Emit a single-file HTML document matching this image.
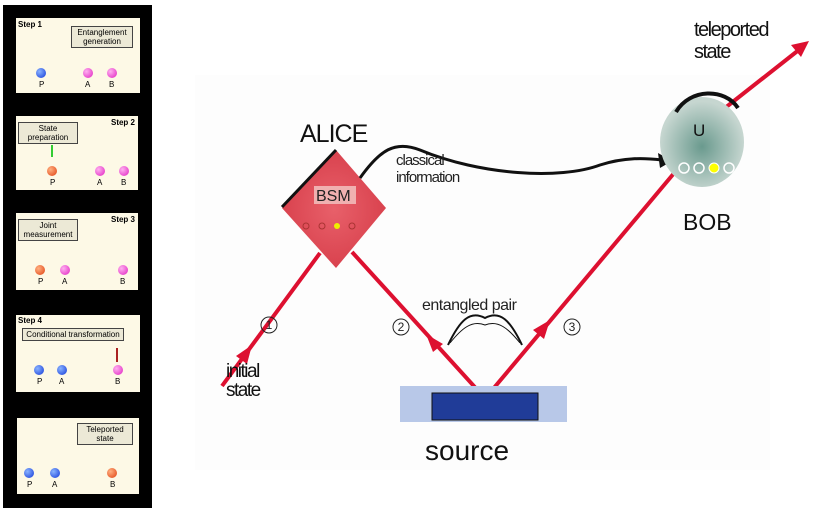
<!DOCTYPE html>
<html><head><style>
body{margin:0;width:830px;height:514px;background:#fff;position:relative;overflow:hidden;font-family:"Liberation Sans",sans-serif}
.panel{position:absolute;left:3px;top:5px;width:149px;height:503px;background:#000}
.st{position:absolute;background:#fdf9e6;overflow:hidden}
.lbl{position:absolute;background:#ece9d6;border:1px solid #444;font-size:8px;text-align:center;line-height:9px;padding:1px}
.b{position:absolute;width:10px;height:10px;border-radius:50%}
.blue{background:radial-gradient(circle at 35% 35%,#8ab4ff,#1238d8)}
.pink{background:radial-gradient(circle at 35% 35%,#ffb0f0,#e020c0)}
.org{background:radial-gradient(circle at 35% 35%,#ffb080,#e04010)}
.t{position:absolute;font-size:8px}
.s{position:absolute;font-size:8px;font-weight:bold}
</style></head><body>
<div class="panel"></div>
<div class="st" style="left:16px;top:18px;width:124px;height:75px">
<div class="s" style="left:2px;top:2px">Step 1</div>
<div class="lbl" style="left:55px;top:8px;width:58px">Entanglement<br>generation</div>
<div class="b blue" style="left:20px;top:50px"></div><div class="t" style="left:23px;top:62px">P</div>
<div class="b pink" style="left:67px;top:50px"></div><div class="t" style="left:69px;top:62px">A</div>
<div class="b pink" style="left:91px;top:50px"></div><div class="t" style="left:93px;top:62px">B</div>
</div>
<div class="st" style="left:16px;top:116px;width:122px;height:74px">
<div class="s" style="right:3px;top:2px">Step 2</div>
<div class="lbl" style="left:2px;top:6px;width:56px">State<br>preparation</div>
<div style="position:absolute;left:35px;top:29px;width:2px;height:12px;background:#3c3"></div>
<div class="b org" style="left:31px;top:50px"></div><div class="t" style="left:34px;top:62px">P</div>
<div class="b pink" style="left:79px;top:50px"></div><div class="t" style="left:81px;top:62px">A</div>
<div class="b pink" style="left:103px;top:50px"></div><div class="t" style="left:105px;top:62px">B</div>
</div>
<div class="st" style="left:16px;top:213px;width:122px;height:77px">
<div class="s" style="right:3px;top:2px">Step 3</div>
<div class="lbl" style="left:2px;top:6px;width:56px">Joint<br>measurement</div>
<div class="b org" style="left:19px;top:52px"></div><div class="t" style="left:22px;top:64px">P</div>
<div class="b pink" style="left:44px;top:52px"></div><div class="t" style="left:46px;top:64px">A</div>
<div class="b pink" style="left:102px;top:52px"></div><div class="t" style="left:104px;top:64px">B</div>
</div>
<div class="st" style="left:16px;top:315px;width:124px;height:77px">
<div class="s" style="left:2px;top:1px">Step 4</div>
<div class="lbl" style="left:6px;top:13px;width:98px">Conditional transformation</div>
<div style="position:absolute;left:100px;top:33px;width:2px;height:14px;background:#a22"></div>
<div class="b blue" style="left:18px;top:50px"></div><div class="t" style="left:21px;top:62px">P</div>
<div class="b blue" style="left:41px;top:50px"></div><div class="t" style="left:43px;top:62px">A</div>
<div class="b pink" style="left:97px;top:50px"></div><div class="t" style="left:99px;top:62px">B</div>
</div>
<div class="st" style="left:17px;top:418px;width:122px;height:76px">
<div class="lbl" style="left:60px;top:5px;width:52px">Teleported<br>state</div>
<div class="b blue" style="left:7px;top:50px"></div><div class="t" style="left:10px;top:62px">P</div>
<div class="b blue" style="left:33px;top:50px"></div><div class="t" style="left:35px;top:62px">A</div>
<div class="b org" style="left:90px;top:50px"></div><div class="t" style="left:93px;top:62px">B</div>
</div>
<svg width="830" height="514" style="position:absolute;left:0;top:0" font-family="Liberation Sans, sans-serif">
<defs>
<radialGradient id="rg" cx="50%" cy="50%" r="50%"><stop offset="0" stop-color="#e8606a"/><stop offset="1" stop-color="#d9424e"/></radialGradient>
<radialGradient id="gg" cx="50%" cy="55%" r="50%"><stop offset="0" stop-color="#6a9a8e"/><stop offset="1" stop-color="#c6d6d0"/></radialGradient>
</defs>
<rect x="195" y="75" width="575" height="395" fill="#fdfdfd"/>
<g stroke="#dd1030" stroke-width="4" fill="#dd1030">
<line x1="222" y1="386" x2="320" y2="253"/>
<line x1="352" y1="252" x2="482" y2="395"/>
<line x1="488" y1="395" x2="675" y2="172"/>
<line x1="725" y1="108" x2="800" y2="49"/>
</g>
<g fill="#dd1030">
<polygon points="252,345 247,364 236,356"/>
<polygon points="426,334 443,344 433,352"/>
<polygon points="550,320 544,339 533,330"/>
<polygon points="809,41 801,57 791,45"/>
</g>
<polygon points="336,150 386,208 336,268 282,208" fill="url(#rg)"/>
<path d="M282,207 L336,150" stroke="#111" stroke-width="3" fill="none"/>
<rect x="314" y="186" width="42" height="18" fill="#f0b0b0"/>
<text x="316" y="201" font-size="16" fill="#222">BSM</text>
<g fill="none" stroke="#a33" stroke-width="1"><circle cx="306" cy="226" r="3"/><circle cx="322" cy="226" r="3"/><circle cx="352" cy="226" r="3"/></g>
<circle cx="337" cy="226" r="3" fill="#ee0"/>
<text x="300" y="142" font-size="25" fill="#111" letter-spacing="-1">ALICE</text>
<path d="M360,178 C380,150 395,140 420,150 C480,175 560,180 600,165 C625,157 645,158 662,160" stroke="#111" stroke-width="3" fill="none"/>
<polygon points="672,161 658,153 660,168" fill="#111"/>
<text x="396" y="165" font-size="15" fill="#222" letter-spacing="-1">classical</text>
<text x="396" y="182" font-size="15" fill="#222" letter-spacing="-1">information</text>
<ellipse cx="702" cy="142" rx="42" ry="45" fill="url(#gg)"/>
<path d="M676,112 C690,88 725,88 738,108" stroke="#111" stroke-width="4" fill="none"/>
<text x="693" y="136" font-size="17" fill="#111">U</text>
<g fill="none" stroke="#fff" stroke-width="1.5"><circle cx="684" cy="168" r="5"/><circle cx="699" cy="168" r="5"/><circle cx="729" cy="168" r="5"/></g>
<circle cx="714" cy="168" r="5" fill="#ff0" stroke="#fff"/>
<text x="683" y="230" font-size="23" fill="#111">BOB</text>
<text x="694" y="36" font-size="20" fill="#111" letter-spacing="-1.5">teleported</text>
<text x="694" y="58" font-size="20" fill="#111" letter-spacing="-1.5">state</text>
<text x="226" y="377" font-size="19" fill="#111" letter-spacing="-1.5">initial</text>
<text x="226" y="396" font-size="19" fill="#111" letter-spacing="-1.5">state</text>
<g font-size="12" fill="#222" text-anchor="middle"><circle cx="269" cy="325" r="8" fill="none" stroke="#222"/><text x="269" y="329">1</text>
<circle cx="401" cy="327" r="8" fill="none" stroke="#222"/><text x="401" y="331">2</text>
<circle cx="572" cy="327" r="8" fill="none" stroke="#222"/><text x="572" y="331">3</text></g>
<text x="422" y="310" font-size="16" fill="#222" letter-spacing="-0.5">entangled pair</text>
<path d="M448,345 C460,320 470,310 485,318 C500,310 510,320 522,345" stroke="#111" stroke-width="2" fill="none"/>
<path d="M450,343 C462,328 472,320 485,325 C498,320 508,328 520,343" stroke="#111" stroke-width="1" fill="none"/>
<rect x="400" y="386" width="167" height="36" fill="#b8c8e8"/>
<rect x="432" y="393" width="106" height="27" fill="#203c98" stroke="#111"/>
<text x="425" y="460" font-size="28" fill="#111">source</text>
</svg>
</body></html>
